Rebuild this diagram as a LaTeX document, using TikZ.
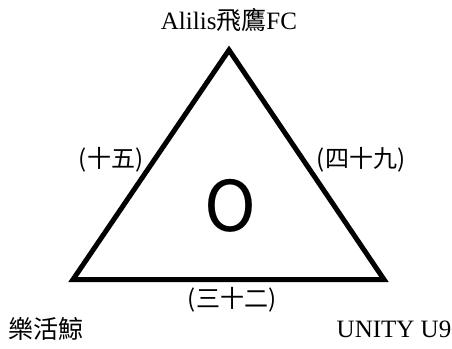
\documentclass[tikz,border=0pt]{standalone}
\usepackage{fontspec}
\setmainfont{Liberation Serif}
\newfontfamily\cjk{Noto Sans CJK TC}
\begin{document}
\begin{tikzpicture}[x=1pt, y=-1pt]
% Set the canvas size (pixels of the reference)
\useasboundingbox (0, 0) rectangle (452, 348);

% Corners of the triangle
\coordinate (top) at (229, 50);
\coordinate (left) at (73, 279.5);
\coordinate (right) at (384, 279.5);

% Draw the triangle
\draw[line width=5pt, line join=miter] (top) -- (right) -- (left) -- cycle;

% Team names
\node[font=\fontsize{25}{28}\selectfont] (teamtop) at (229, 20) {Alilis{\cjk 飛鷹}FC};
\node[font=\fontsize{25}{28}\selectfont\cjk] (teamleft) at (46, 329) {樂活鯨};
\node[font=\fontsize{25}{28}\selectfont] (teamright) at (394, 329) {UNITY U9};

% Scores on the sides
\node[font=\fontsize{24}{28}\selectfont\cjk] (scoreleft) at (111, 160) {(十五)};
\node[font=\fontsize{24}{28}\selectfont\cjk] (scoreright) at (361, 160) {(四十九)};
\node[font=\fontsize{24}{28}\selectfont\cjk] (scorebottom) at (232, 300) {(三十二)};

% Result in the middle
\node[font=\fontsize{70}{72}\selectfont\cjk] (result) at (230, 206) {O};
\end{tikzpicture}
\end{document}
